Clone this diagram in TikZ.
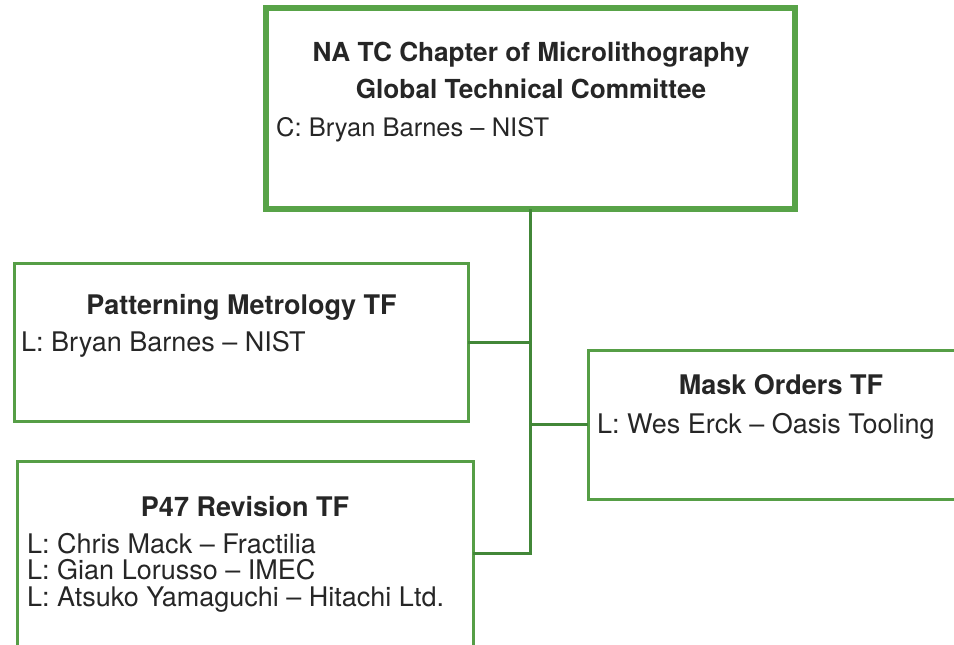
\documentclass[tikz,border=0pt]{standalone}
\usepackage{fontspec}
\setmainfont{TeX Gyre Heros}
\usetikzlibrary{positioning}
\definecolor{gtcgreen}{RGB}{88,163,72}
\definecolor{tfgreen}{RGB}{86,158,70}
\definecolor{linkgreen}{RGB}{66,135,56}
\definecolor{ink}{RGB}{38,38,38}

\begin{document}
\begin{tikzpicture}[x=1pt,y=-1pt,
  box/.style={draw=tfgreen,line width=3pt,inner sep=0pt,outer sep=0pt},
  link/.style={draw=linkgreen,line width=3pt},
  ttl/.style={font=\fontsize{27}{28}\selectfont\bfseries,text=ink,inner sep=0pt,anchor=base},
  txt/.style={font=\fontsize{27}{28}\selectfont,text=ink,inner sep=0pt,anchor=base west}]
\useasboundingbox (0,0) rectangle (954,645);
\clip (0,0) rectangle (954,645);
% boxes
\node[box,draw=gtcgreen,line width=6pt,minimum width=529pt,minimum height=201pt] (gtc) at (530.5,108.5) {};
\node[box,minimum width=454pt,minimum height=158pt] (pat) at (241,342) {};
\node[box,minimum width=386pt,minimum height=149pt] (mask) at (781,424.5) {};
\node[box,minimum width=456pt,minimum height=185pt] (rev) at (245,553.5) {};
% connectors
\draw[link] (gtc.south) |- (rev.east);
\draw[link] (pat.east) -- (pat.east -| gtc.south);
\draw[link] (mask.west) -- (mask.west -| gtc.south);
% texts
\node[ttl,font=\fontsize{26.2}{27}\selectfont\bfseries] (gtcT1) at (531,61) {NA TC Chapter of Microlithography};
\node[ttl,font=\fontsize{26.2}{27}\selectfont\bfseries] (gtcT2) at (531,98) {Global Technical Committee};
\node[txt,font=\fontsize{25.5}{27}\selectfont] (gtcC) at (276,136) {C: Bryan Barnes -- NIST};
\node[ttl] (patT) at (241.5,314) {Patterning Metrology TF};
\node[txt] (patL) at (21,351) {L: Bryan Barnes -- NIST};
\node[ttl] (maskT) at (781,394) {Mask Orders TF};
\node[txt] (maskL) at (597,433) {L: Wes Erck -- Oasis Tooling};
\node[ttl] (revT) at (245,516) {P47 Revision TF};
\foreach \t [count=\i] in {L: Chris Mack -- Fractilia,L: Gian Lorusso -- IMEC,L: Atsuko Yamaguchi -- Hitachi Ltd.}
  \node[txt] (revL\i) at (27,{553+26.5*(\i-1)}) {\t};
\end{tikzpicture}
\end{document}
